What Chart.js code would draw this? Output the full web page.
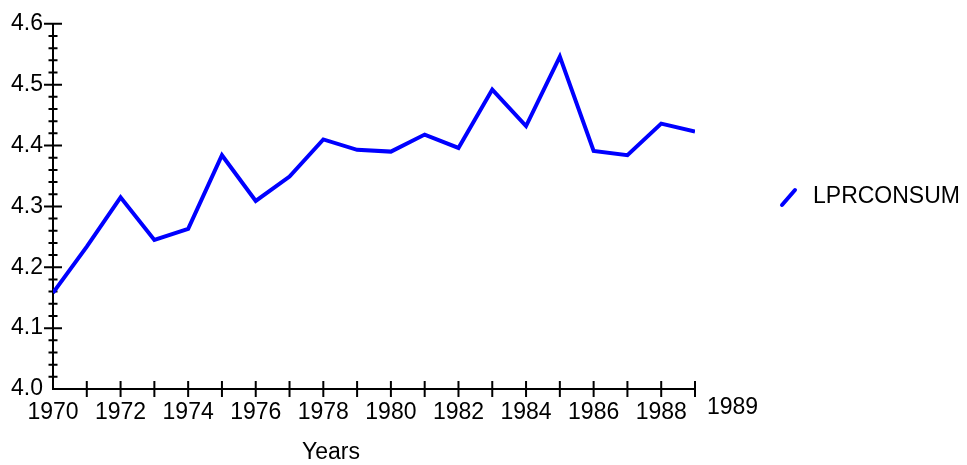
<!DOCTYPE html>
<html>
<head>
<meta charset="utf-8">
<script src="https://cdn.jsdelivr.net/npm/chart.js@4.4.1/dist/chart.umd.min.js"></script>
<style>
  html, body { margin: 0; padding: 0; background: #fff; }
  #wrap { width: 967px; height: 465px; }
</style>
</head>
<body>
<div id="wrap"><canvas id="my"></canvas></div>
<script>
// data
const years = [1970, 1971, 1972, 1973, 1974, 1975, 1976, 1977, 1978, 1979,
               1980, 1981, 1982, 1983, 1984, 1985, 1986, 1987, 1988, 1989];
const lprconsum = [4.158, 4.234, 4.315, 4.245, 4.263, 4.384, 4.309, 4.349, 4.410, 4.393,
                   4.390, 4.418, 4.396, 4.492, 4.432, 4.546, 4.391, 4.384, 4.436, 4.423];
const yTicks = [4.0, 4.1, 4.2, 4.3, 4.4, 4.5, 4.6];
const xLabelYears = [1970, 1972, 1974, 1976, 1978, 1980, 1982, 1984, 1986, 1988];
const lastYearLabel = '1989';
const seriesName = 'LPRCONSUM';
const xTitle = 'Years';

const FONT = 'Arial, "Liberation Sans", sans-serif';
const FSIZE = 23;

// tick marks, axis title, legend and the stray end label
const axisExtras = {
  id: 'axisExtras',
  beforeDatasetsDraw(chart) {
    const ctx = chart.ctx;
    const xs = chart.scales.x, ys = chart.scales.y;
    const ax = xs.getPixelForValue(years[0]);
    const ay = ys.getPixelForValue(yTicks[0]);
    ctx.save();
    ctx.strokeStyle = '#000';
    ctx.lineWidth = 2;
    ctx.beginPath();
    // y axis: major every 0.1, minor every 0.02
    for (let i = 0; i < yTicks.length; i++) {
      const py = ys.getPixelForValue(yTicks[i]);
      if (i > 0) {
        ctx.moveTo(ax - 9, py); ctx.lineTo(ax + 9, py);
      }
      if (i < yTicks.length - 1) {
        for (let k = 1; k < 5; k++) {
          const my = ys.getPixelForValue(yTicks[i] + k * 0.02);
          ctx.moveTo(ax - 4.5, my); ctx.lineTo(ax + 4.5, my);
        }
      }
    }
    // x axis: tick every year
    for (let i = 1; i < years.length; i++) {
      const px = xs.getPixelForValue(years[i]);
      ctx.moveTo(px, ay - 8); ctx.lineTo(px, ay + 8);
    }
    ctx.stroke();
    ctx.restore();
  },
  afterDraw(chart) {
    const ctx = chart.ctx;
    const xs = chart.scales.x, ys = chart.scales.y;
    const ds = chart.data.datasets[0];
    ctx.save();
    ctx.fillStyle = '#000';
    ctx.font = FSIZE + 'px ' + FONT;
    ctx.textBaseline = 'middle';
    ctx.textAlign = 'left';
    ctx.fillText(lastYearLabel, xs.getPixelForValue(years[years.length - 1]) + 12, ys.getPixelForValue(yTicks[0]) + 19);
    ctx.textAlign = 'center';
    ctx.fillText(xTitle, 331, 453);
    // legend
    ctx.textAlign = 'left';
    ctx.strokeStyle = ds.borderColor;
    ctx.lineWidth = 4;
    ctx.lineCap = 'round';
    ctx.beginPath();
    ctx.moveTo(782, 205);
    ctx.lineTo(795, 190);
    ctx.stroke();
    ctx.fillText(ds.label, 813, 197);
    ctx.restore();
  }
};

new Chart(document.getElementById('my').getContext('2d'), {
  type: 'line',
  data: {
    datasets: [{
      label: seriesName,
      data: years.map((y, i) => ({ x: y, y: lprconsum[i] })),
      borderColor: '#0000ff',
      borderWidth: 4,
      pointRadius: 0,
      tension: 0,
      fill: false
    }]
  },
  options: {
    responsive: true,
    maintainAspectRatio: false,
    animation: false,
    layout: { padding: { left: 0, right: 272, top: 21, bottom: 0 } },
    plugins: { legend: { display: false }, tooltip: { enabled: false } },
    scales: {
      x: {
        type: 'linear',
        min: years[0],
        max: years[years.length - 1],
        afterBuildTicks: (s) => { s.ticks = years.map(v => ({ value: v })); },
        afterFit: (s) => { s.height = 76; },
        ticks: {
          autoSkip: false,
          maxRotation: 0,
          padding: 10,
          color: '#000',
          font: { family: FONT, size: FSIZE },
          callback: (v) => xLabelYears.includes(v) ? String(v) : ''
        },
        grid: { display: false, drawTicks: false },
        border: { display: true, color: '#000', width: 2 }
      },
      y: {
        min: yTicks[0],
        max: yTicks[yTicks.length - 1],
        afterBuildTicks: (s) => { s.ticks = yTicks.map(v => ({ value: v })); },
        afterFit: (s) => { s.width = 53; },
        ticks: {
          padding: 10,
          color: '#000',
          font: { family: FONT, size: FSIZE },
          callback: (v) => v.toFixed(1)
        },
        grid: { display: false, drawTicks: false },
        border: { display: true, color: '#000', width: 2 }
      }
    }
  },
  plugins: [axisExtras]
});
</script>
</body>
</html>
